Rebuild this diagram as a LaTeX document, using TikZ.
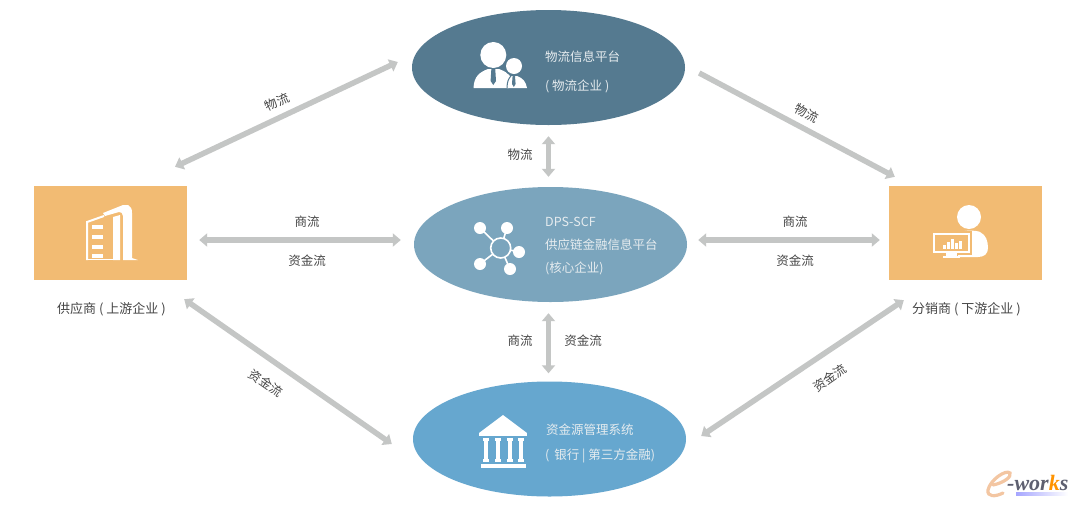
\documentclass[tikz,border=0pt]{standalone}
\usepackage{fontspec}
\setmainfont{Noto Sans CJK SC}
\newfontfamily\wmfont{Liberation Serif}
\usetikzlibrary{arrows.meta,shapes.geometric}
\definecolor{topblue}{HTML}{557A90}
\definecolor{midblue}{HTML}{7BA5BD}
\definecolor{lowblue}{HTML}{66A7CF}
\definecolor{boxorange}{HTML}{F2BB73}
\definecolor{arrowgray}{HTML}{C4C6C5}
\definecolor{labelgray}{HTML}{454545}
\definecolor{inktext}{HTML}{E6ECEF}
\definecolor{wmgray}{HTML}{5E6070}
\definecolor{wmorange}{HTML}{F3C6A2}
\tikzset{
  platform/.style={ellipse,minimum width=273pt,minimum height=115pt,inner sep=0pt},
  partybox/.style={rectangle,fill=boxorange,minimum width=153pt,minimum height=94pt,inner sep=0pt},
  flowline/.style={draw=arrowgray,line width=5.5pt},
  flowarrow/.style={flowline,{Triangle[width=13pt,length=8pt]}-{Triangle[width=13pt,length=8pt]}},
  onearrow/.style={flowline,-{Triangle[width=13pt,length=8pt]}},
  flowlabel/.style={text=labelgray,font=\fontsize{12.5pt}{14pt}\selectfont,inner sep=0pt},
  captionlabel/.style={text=labelgray,font=\fontsize{13pt}{15pt}\selectfont,inner sep=0pt},
  insidetext/.style={text=inktext,font=\fontsize{12.5pt}{15pt}\selectfont,inner sep=0pt,anchor=west},
  icon/.style={fill=white,draw=none},
  iconline/.style={draw=white,fill=none,line width=1.6pt},
}
\begin{document}
\begin{tikzpicture}[x=1pt,y=-1pt]
\useasboundingbox (0,0) rectangle (1080,507);
\fill[white] (0,0) rectangle (1080,507);

\node[platform,fill=topblue] (logi) at (548.5,67.5) {};
\node[platform,fill=midblue] (core) at (550.5,244.5) {};
\node[platform,fill=lowblue] (bank) at (549.5,439) {};
\node[partybox] (supp) at (110.5,233) {};
\node[partybox] (dist) at (965.5,233) {};

% connectors
\draw[flowarrow] ([shift={(64.5,-19)}]supp.north) -- ([shift={(-14,-5.5)}]logi.west);
\draw[onearrow] ([shift={(14,5.5)}]logi.east) -- ([shift={(6,-9)}]dist.north west);
\draw[flowarrow] ([shift={(12,7)}]supp.east) -- ([shift={(-13,-4.5)}]core.west);
\draw[flowarrow] ([shift={(11,-4.5)}]core.east) -- ([shift={(-9,7)}]dist.west);
\draw[flowarrow] ([shift={(0,11)}]logi.south) -- ([shift={(-2,-10)}]core.north);
\draw[flowarrow] ([shift={(-2,11)}]core.south) -- ([shift={(-1,-8)}]bank.north);
\draw[flowarrow] ([shift={(-3,19)}]supp.south east) -- ([shift={(-21,5)}]bank.west);
\draw[flowarrow] ([shift={(15,-3)}]bank.east) -- ([shift={(15,20)}]dist.south west);

% flow labels
\node[flowlabel,rotate=25] (l1) at (277,102) {物流};
\node[flowlabel,rotate=-28] (l2) at (807,113) {物流};
\node[flowlabel] (l3) at (520,155) {物流};
\node[flowlabel] (l4) at (307,222) {商流};
\node[flowlabel] (l5) at (307,261) {资金流};
\node[flowlabel] (l6) at (795,222) {商流};
\node[flowlabel] (l7) at (795,261) {资金流};
\node[flowlabel] (l8) at (520,341) {商流};
\node[flowlabel] (l9) at (583,341) {资金流};
\node[flowlabel,rotate=-35] (l10) at (266,383) {资金流};
\node[flowlabel,rotate=35] (l11) at (830,378) {资金流};

% party captions
\node[captionlabel] (t1) at (111.5,309) {供应商 ( 上游企业 )};
\node[captionlabel] (t2) at (966.5,309) {分销商 ( 下游企业 )};

% ellipse texts
\node[insidetext] (a1) at (545,57) {物流信息平台};
\node[insidetext] (a2) at (545,86) {( 物流企业 )};
\node[insidetext] (b1) at (545,222) {DPS-SCF};
\node[insidetext] (b2) at (545,245) {供应链金融信息平台};
\node[insidetext] (b3) at (545,268) {(核心企业)};
\node[insidetext] (c1) at (546,430) {资金源管理系统};
\node[insidetext] (c2) at (545,456) {(\hspace{5pt}银行 | 第三方金融)};

% people icon
\fill[icon] (493.3,55) circle (13);
\fill[icon] (473.5,88) .. controls (474,76) and (480,72) .. (488,69) -- (499,69)
  .. controls (504,71) and (509,73) .. (511,78) -- (509,88) -- cycle;
\fill[topblue] (491.4,68) -- (495.2,68) -- (496,81) -- (493.3,85) -- (490.6,81) -- cycle;
\fill[topblue] (514,66) circle (10);
\fill[icon] (514,66) circle (8);
\fill[icon] (507,88) .. controls (507,81) and (509,78) .. (511,76) -- (517,76)
  .. controls (523,78) and (526,82) .. (527,88) -- cycle;
\draw[topblue,line width=1pt] (507,88) .. controls (507,81) and (509,78) .. (511,76);
\fill[topblue] (512.6,76) -- (515,76) -- (515.6,84) -- (513.8,87) -- (512,84) -- cycle;

% network icon
\draw[iconline] (500.7,248) circle (10);
\foreach \px/\py in {480/228,507/228,519/252,480/264,510/269}{
  \fill[icon] (\px,\py) circle (6);
  \draw[iconline] (500.7,248) ++ ({atan2(\py-248,\px-500.7)}:10) -- (\px,\py);
}

% bank icon
\fill[icon] (503,415) -- (527,433) -- (479,433) -- cycle;
\fill[icon] (479,433) rectangle (527,436);
\foreach \cx in {486,498,510,521}{
  \fill[icon] (\cx-3.2,438) rectangle (\cx+3.2,441);
  \fill[icon] (\cx-2.2,441) rectangle (\cx+2.2,459);
  \fill[icon] (\cx-3.2,459) rectangle (\cx+3.2,462);
}
\fill[icon] (481,464) rectangle (526,467.5);

% building icon
\fill[icon] (103,213) -- (123,205) -- (128,205) .. controls (131,206) and (132,209) .. (132,213)
  -- (132,258) -- (138,260) -- (123,260) -- (123,216) .. controls (123,213) and (121,212) .. (119,212)
  -- (105,216) -- cycle;
\draw[iconline,line width=2pt] (104,216) -- (87,222) -- (87,260);
\fill[icon] (113,217) -- (120,215) -- (120,260) -- (113,260) -- cycle;
\fill[icon] (87,258.5) rectangle (113,260);
\foreach \wy in {227,237,247,256}{
  \fill[icon] (92,\wy-2) rectangle (103,\wy+2);
}

% distributor icon
\fill[icon] (969,217) circle (12);
\fill[icon] (958,233) .. controls (962,230) and (976,230) .. (980,232)
  .. controls (986,235) and (988,241) .. (988,248) .. controls (988,254) and (984,257) .. (978,257)
  -- (958,257) -- cycle;
\fill[boxorange] (931,231) rectangle (972,255);
\draw[draw=white,fill=none,line width=1.5pt] (934,234) rectangle (969,252);
\fill[icon] (946,252) rectangle (957,256);
\fill[icon] (943,256) rectangle (960,258);
\foreach \bx/\bt in {943/245,947/242,951/239,955/243,959/241}{
  \fill[icon] (\bx,\bt) rectangle (\bx+2.6,249);
}

% watermark
\draw[wmorange,line width=3.2pt,line cap=round] (993,485) .. controls (1003,483) and (1012,477) .. (1010,473)
  .. controls (1006,469) and (990,480) .. (988,490) .. controls (987,497) and (995,497) .. (1003,493);
\node[inner sep=0pt,anchor=base west,font=\wmfont\bfseries\itshape\fontsize{22pt}{24pt}\selectfont,text=wmgray] (wm) at (1007,490) {-wor\textcolor{orange!85!yellow}{k}s};
\shade[left color=blue!35!white,right color=white] (1016,492) rectangle (1068,495);
\end{tikzpicture}
\end{document}
